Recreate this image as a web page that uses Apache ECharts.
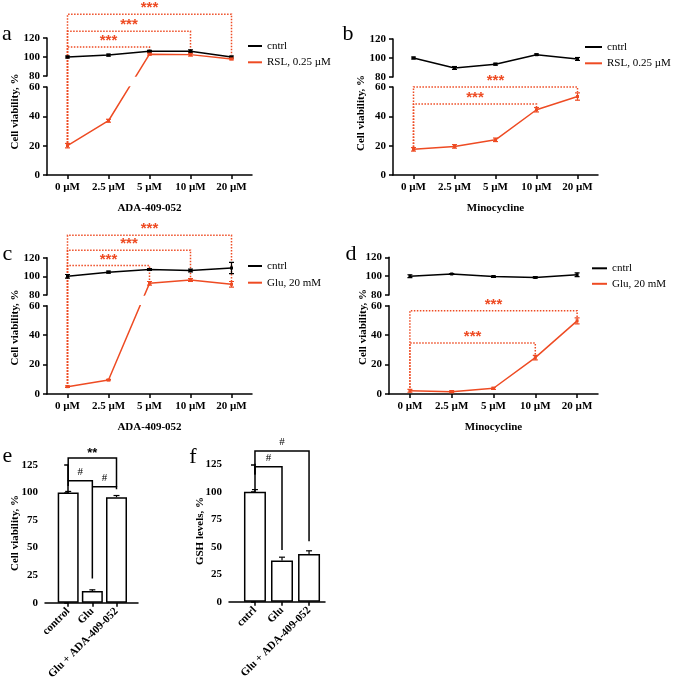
<!DOCTYPE html>
<html>
<head>
<meta charset="utf-8">
<script src="https://cdn.jsdelivr.net/npm/echarts@6/dist/echarts.min.js"></script>
<style>html,body{margin:0;padding:0;background:#fff}#main{width:673px;height:681px}</style>
</head>
<body>
<div id="main"></div>
<script>
// doses shared by panels a-d
var doses = ['0 µM', '2.5 µM', '5 µM', '10 µM', '20 µM'];

// a: ADA-409-052 + RSL
var aCtrl = [100, 102, 106, 106, 100];
var aCtrlErr = [1, 1, 1, 1.5, 1];
var aRsl = [20, 37, 103, 102.5, 98];
var aRslErr = [1.5, 1, 1, 1.5, 1];
// b: Minocycline + RSL
var bCtrl = [100, 89.5, 93.5, 103.5, 99];
var bCtrlErr = [1, 1.5, 1, 0.8, 1.5];
var bRsl = [17.5, 19.5, 24, 44.5, 53.5];
var bRslErr = [1.2, 1.2, 1.2, 1.5, 2.5];
// c: ADA-409-052 + Glu
var cCtrl = [100, 104.5, 107.3, 106.3, 109];
var cCtrlErr = [2, 1, 1, 1.5, 6];
var cGlu = [5, 9.5, 92.5, 96, 91.5];
var cGluErr = [0.5, 0.5, 2, 1.5, 3];
// d: Minocycline + Glu
var dCtrl = [100, 102.3, 99.6, 98.6, 101.5];
var dCtrlErr = [1.5, 0.5, 0.8, 0.8, 2];
var dGlu = [2.2, 1.6, 3.9, 24.7, 49.7];
var dGluErr = [1, 0.7, 0.7, 1.5, 2];

// e, f: bars
var eGroups = ['control', 'Glu', 'Glu + ADA-409-052'];
var eVals = [100, 10.7, 95.8];
var eErr = [1, 1, 1.5];
var fGroups = ['cntrl', 'Glu', 'Glu + ADA-409-052'];
var fVals = [100, 37.5, 43.3];
var fErr = [2, 3, 3];

// significance brackets: [from, to, top, left end, right end]
var aBrackets = [[0, 2, 110.5, 20, 105.3], [0, 3, 127, 20, 107.4], [0, 4, 145, 20, 102]];
var bBrackets = [[0, 3, 48.4, 17, 45.5], [0, 4, 60, 17, 56.6]];
var cBrackets = [[0, 2, 111.6, 5, 92.6], [0, 3, 128, 5, 97.6], [0, 4, 144, 5, 92.6]];
var dBrackets = [[0, 3, 34.6, 2.2, 26.6], [0, 4, 56.6, 2.2, 51.7]];
var eBrackets = [[0, 2, 131.3, 110.6, 105.2, '**'], [0, 1, 110.6, 106, 22, '#'], [1, 2, 105.2, 105.2, 103, '#']];
var fBrackets = [[0, 2, 137, 115.8, 55, '#'], [0, 1, 122.8, 115.8, 47, '#']];

var RED = '#ee4b23';
var FONT = 'Liberation Serif';

var chart = echarts.init(document.getElementById('main'));

var panels = [
  { left: 47, width: 205, t1: 38, h1: 38, t2: 87, h2: 88, ctrl: aCtrl, ctrlErr: aCtrlErr, trt: aRsl, trtErr: aRslErr, trtName: 'RSL, 0.25 µM', xName: 'ADA-409-052', br: aBrackets },
  { left: 393, width: 205, t1: 39, h1: 38, t2: 87, h2: 88, ctrl: bCtrl, ctrlErr: bCtrlErr, trt: bRsl, trtErr: bRslErr, trtName: 'RSL, 0.25 µM', xName: 'Minocycline', br: bBrackets },
  { left: 47, width: 205, t1: 257.7, h1: 37.3, t2: 305.7, h2: 88.3, ctrl: cCtrl, ctrlErr: cCtrlErr, trt: cGlu, trtErr: cGluErr, trtName: 'Glu, 20 mM', xName: 'ADA-409-052', br: cBrackets },
  { left: 389, width: 209, t1: 257.3, h1: 37.7, t2: 305.7, h2: 88.3, ctrl: dCtrl, ctrlErr: dCtrlErr, trt: dGlu, trtErr: dGluErr, trtName: 'Glu, 20 mM', xName: 'Minocycline', br: dBrackets }
];

var axLine = { show: true, lineStyle: { color: '#000', width: 1.5 } };
var axTick = { show: true, length: 4, lineStyle: { color: '#000', width: 1.5 } };
var axLabel = { color: '#000', fontFamily: FONT, fontWeight: 'bold', fontSize: 11 };

function yAx(gi, min, max, step) {
  return {
    type: 'value', gridIndex: gi, min: min, max: max, interval: step,
    axisLine: axLine, axisTick: axTick, splitLine: { show: false },
    axisLabel: Object.assign({ margin: 7 }, axLabel)
  };
}

function errBars(color, cap, upOnly) {
  return function (params, api) {
    var x = api.value(0), v = api.value(1), e = api.value(2);
    var hi = api.coord([x, v + e]);
    var lo = api.coord([x, upOnly ? v : v - e]);
    var seg = function (x1, y1, x2, y2) {
      return { type: 'line', shape: { x1: x1, y1: y1, x2: x2, y2: y2 }, style: { stroke: color, lineWidth: 1.2 } };
    };
    var kids = [seg(hi[0], hi[1], lo[0], lo[1]), seg(hi[0] - cap, hi[1], hi[0] + cap, hi[1])];
    if (!upOnly) kids.push(seg(lo[0] - cap, lo[1], lo[0] + cap, lo[1]));
    return { type: 'group', children: kids };
  };
}

var grids = [], xAxes = [], yAxes = [], series = [], lineRefs = [];

panels.forEach(function (p, k) {
  var gTop = 2 * k, gBot = 2 * k + 1;
  grids.push({ left: p.left, top: p.t1, width: p.width, height: p.h1, outerBoundsMode: 'none' });
  grids.push({ left: p.left, top: p.t2, width: p.width, height: p.h2, outerBoundsMode: 'none' });
  xAxes.push({ type: 'category', gridIndex: gTop, data: doses, show: false });
  xAxes.push({
    type: 'category', gridIndex: gBot, data: doses, boundaryGap: true,
    axisLine: axLine, axisTick: Object.assign({ alignWithLabel: true, interval: 0 }, axTick),
    axisLabel: Object.assign({ margin: 7, interval: 0 }, axLabel),
    name: p.xName, nameLocation: 'middle', nameGap: 28,
    nameTextStyle: { color: '#000', fontFamily: FONT, fontWeight: 'bold', fontSize: 11 }
  });
  yAxes.push(yAx(gTop, 80, 120, 20));
  yAxes.push(yAx(gBot, 0, 60, 20));

  [[p.ctrl, p.ctrlErr, 'cntrl', '#000'], [p.trt, p.trtErr, p.trtName, RED]].forEach(function (s) {
    [gTop, gBot].forEach(function (g) {
      lineRefs.push({ k: k, grid: g, vals: s[0], idx: series.length });
      series.push({
        type: 'line', name: s[2], xAxisIndex: g, yAxisIndex: g, data: s[0], clip: true,
        symbol: 'rect', symbolSize: 3, lineStyle: { color: s[3], width: 1.5 }, itemStyle: { color: s[3] },
        emphasis: { disabled: true }
      });
      series.push({
        type: 'custom', xAxisIndex: g, yAxisIndex: g, clip: true,
        data: s[0].map(function (v, i) { return [i, v, s[1][i]]; }),
        renderItem: errBars(s[3], 2.5, false)
      });
    });
  });
});

// bar panels e (grid 8) and f (grid 9)
var bars = [
  { left: 45, top: 465, width: 93, height: 137.7, xmin: -0.96, xmax: 2.89, bw: 21, groups: eGroups, vals: eVals, err: eErr },
  { left: 229, top: 464.3, width: 96, height: 137.4, xmin: -0.96, xmax: 2.59, bw: 22, groups: fGroups, vals: fVals, err: fErr }
];
bars.forEach(function (b, k) {
  var g = 8 + k;
  var idx = b.groups.map(function (n, i) { return i; });
  grids.push({ left: b.left, top: b.top, width: b.width, height: b.height, outerBoundsMode: 'none' });
  xAxes.push({
    type: 'value', gridIndex: g, min: b.xmin, max: b.xmax,
    axisLine: axLine, splitLine: { show: false },
    axisTick: Object.assign({ customValues: idx }, axTick),
    axisLabel: Object.assign({ customValues: idx, rotate: 45, margin: 7, formatter: function (v) { return b.groups[Math.round(v)]; } }, axLabel)
  });
  yAxes.push(yAx(g, 0, 125, 25));
  series.push({
    type: 'bar', xAxisIndex: g, yAxisIndex: g, barWidth: b.bw,
    data: b.vals.map(function (v, i) { return [i, v]; }),
    itemStyle: { color: '#fff', borderColor: '#000', borderWidth: 1.5 },
    emphasis: { disabled: true }
  });
  series.push({
    type: 'custom', xAxisIndex: g, yAxisIndex: g,
    data: b.vals.map(function (v, i) { return [i, v, b.err[i]]; }),
    renderItem: errBars('#000', 3, true), z: 3
  });
});

var legTxt = { color: '#000', fontFamily: FONT, fontSize: 11, lineHeight: 13 };
function leg(names, left, top, w, gap) {
  return { data: names, left: left, top: top, orient: 'vertical', icon: 'rect', itemWidth: w, itemHeight: 2,
    itemGap: gap, selectedMode: false, padding: 0, textStyle: legTxt };
}

chart.setOption({
  animation: false,
  textStyle: { fontFamily: FONT },
  grid: grids,
  xAxis: xAxes,
  yAxis: yAxes,
  legend: [
    leg(['cntrl', 'RSL, 0.25 µM'], 248, 39.5, 14, 3.3),
    leg(['cntrl', 'RSL, 0.25 µM'], 585, 40.5, 17, 3.3),
    leg(['cntrl', 'Glu, 20 mM'], 248, 259.5, 14, 3.7),
    leg(['cntrl', 'Glu, 20 mM'], 592, 261.8, 15, 2.5)
  ],
  series: series
});

// point position on the broken axis: upper segment for >= 70, lower otherwise
function px(k, i, v) {
  var g = v >= 70 ? 2 * k : 2 * k + 1;
  return chart.convertToPixel({ gridIndex: g }, [i, v]);
}

// re-express each point in the other segment's scale so a line crossing the
// break stays straight (each copy is clipped to its own segment)
lineRefs.forEach(function (r) {
  series[r.idx].data = r.vals.map(function (v, i) {
    return chart.convertFromPixel({ gridIndex: r.grid }, px(r.k, i, v))[1];
  });
});
chart.setOption({ series: series });

function txt(x, y, s, font, color, rot) {
  return { type: 'text', x: x, y: y, rotation: rot || 0, silent: true,
    style: { text: s, font: font, fill: color, align: 'center', verticalAlign: 'middle', textAlign: 'center', textVerticalAlign: 'middle' } };
}

var marks = [];
panels.forEach(function (p, k) {
  p.br.forEach(function (b) {
    var l0 = px(k, b[0], b[3]), l1 = px(k, b[0], b[2]), r1 = px(k, b[1], b[2]), r0 = px(k, b[1], b[4]);
    marks.push({ type: 'polyline', silent: true, shape: { points: [l0, l1, r1, r0] },
      style: { stroke: RED, lineWidth: 1.5, lineDash: [1.5, 1.5], fill: null } });
    marks.push(txt((l1[0] + r1[0]) / 2, l1[1] - 6, '***', 'bold 15px "Liberation Sans"', RED));
  });
});
[eBrackets, fBrackets].forEach(function (list, k) {
  list.forEach(function (b) {
    var g = { gridIndex: 8 + k };
    var l0 = chart.convertToPixel(g, [b[0], b[3]]), l1 = chart.convertToPixel(g, [b[0], b[2]]);
    var r1 = chart.convertToPixel(g, [b[1], b[2]]), r0 = chart.convertToPixel(g, [b[1], b[4]]);
    marks.push({ type: 'polyline', silent: true, shape: { points: [l0, l1, r1, r0] },
      style: { stroke: '#000', lineWidth: 1.5, fill: null } });
    var f = b[5] === '#' ? '11px "Liberation Serif"' : 'bold 13px "Liberation Sans"';
    marks.push(txt((l1[0] + r1[0]) / 2, l1[1] - (b[5] === '#' ? 9 : 5), b[5], f, '#000'));
  });
});

// axis titles and panel letters
var yName = 'bold 11px "Liberation Serif"';
marks.push(txt(14.7, 111.5, 'Cell viability, %', yName, '#000', Math.PI / 2));
marks.push(txt(361, 113, 'Cell viability, %', yName, '#000', Math.PI / 2));
marks.push(txt(15, 327.5, 'Cell viability, %', yName, '#000', Math.PI / 2));
marks.push(txt(363, 327, 'Cell viability, %', yName, '#000', Math.PI / 2));
marks.push(txt(15, 533, 'Cell viability, %', yName, '#000', Math.PI / 2));
marks.push(txt(200, 531, 'GSH levels, %', yName, '#000', Math.PI / 2));

var letter = '22px "Liberation Serif"';
[['a', 7, 34.3], ['b', 348, 34.3], ['c', 7.5, 254.3], ['d', 351, 254.3], ['e', 7.5, 456], ['f', 193, 457.6]].forEach(function (l) {
  marks.push(txt(l[1], l[2], l[0], letter, '#000'));
});

chart.setOption({ graphic: { elements: marks } });
</script>
</body>
</html>
